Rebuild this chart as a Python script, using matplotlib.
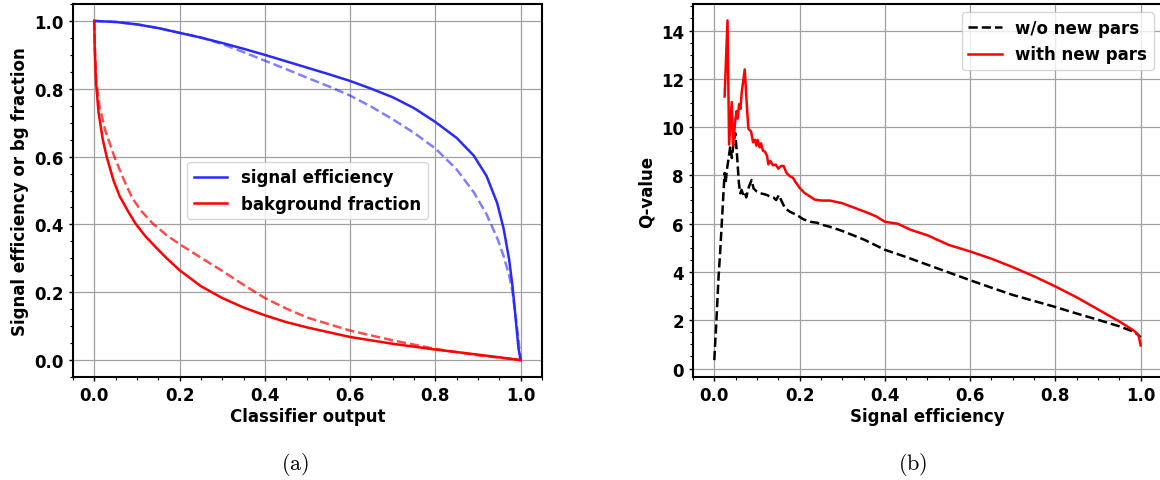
import numpy as np
import matplotlib
matplotlib.use("Agg")
from matplotlib import pyplot as plt
from matplotlib.ticker import MultipleLocator

plt.rcParams['font.family'] = 'DejaVu Sans'
plt.rcParams['font.weight'] = 'bold'
plt.rcParams['axes.labelweight'] = 'bold'
plt.rcParams['font.size'] = 12
plt.rcParams['mathtext.fontset'] = 'cm'

# (a) efficiencies vs classifier output
cut_sig = [0.0, 0.05, 0.1, 0.15, 0.2, 0.25, 0.3, 0.35, 0.4, 0.45, 0.5, 0.55, 0.6,
           0.65, 0.7, 0.75, 0.8, 0.85, 0.89, 0.92, 0.945, 0.96, 0.973, 0.981,
           0.989, 0.995, 1.0]
sig_new = [1.0, 0.997, 0.99, 0.979, 0.965, 0.951, 0.935, 0.918, 0.9, 0.881, 0.862,
           0.843, 0.823, 0.8, 0.775, 0.743, 0.702, 0.655, 0.603, 0.543, 0.463,
           0.388, 0.297, 0.217, 0.113, 0.035, 0.0]
sig_old = [1.0, 0.997, 0.99, 0.979, 0.965, 0.951, 0.932, 0.908, 0.883, 0.858, 0.832,
           0.807, 0.78, 0.747, 0.71, 0.67, 0.624, 0.562, 0.495, 0.43, 0.36,
           0.307, 0.25, 0.2, 0.123, 0.06, 0.0]

cut_bg = [0.0, 0.001, 0.004, 0.01, 0.02, 0.029, 0.045, 0.06, 0.08, 0.097, 0.12,
          0.144, 0.17, 0.2, 0.25, 0.3, 0.35, 0.4, 0.45, 0.5, 0.6, 0.7, 0.8, 0.9, 1.0]
bg_new = [1.0, 0.92, 0.82, 0.73, 0.65, 0.6, 0.53, 0.482, 0.437, 0.402, 0.365, 0.333,
          0.3, 0.265, 0.218, 0.183, 0.155, 0.132, 0.112, 0.096, 0.068, 0.048, 0.031,
          0.016, 0.0]

cut_bg_old = [0.0, 0.002, 0.005, 0.012, 0.025, 0.047, 0.07, 0.089, 0.11, 0.1376,
              0.17, 0.2, 0.25, 0.3, 0.35, 0.4, 0.45, 0.5, 0.6, 0.7, 0.8, 0.9, 1.0]
bg_old = [1.0, 0.9, 0.82, 0.75, 0.68, 0.6, 0.53, 0.478, 0.44, 0.402, 0.368, 0.342,
          0.302, 0.263, 0.222, 0.183, 0.152, 0.125, 0.087, 0.058, 0.033, 0.014, 0.0]

# (b) Q-value vs signal efficiency
eff_old = [0.0, 0.005, 0.01, 0.014, 0.0219, 0.0242, 0.0265, 0.0296, 0.0343, 0.0374,
           0.0413, 0.0452, 0.0491, 0.053, 0.0577, 0.0608, 0.064, 0.0671, 0.071,
           0.0749, 0.0812, 0.0874, 0.0921, 0.0999, 0.1077, 0.1155, 0.1233, 0.1311,
           0.139, 0.1452, 0.1515, 0.1585, 0.1663, 0.178, 0.1936, 0.2092, 0.2248,
           0.2405, 0.2561, 0.2717, 0.3, 0.35, 0.4, 0.45, 0.5, 0.55, 0.6, 0.65, 0.7,
           0.75, 0.8, 0.85, 0.9, 0.95, 0.98, 0.99, 1.0]
q_old = [0.35, 2.0, 3.8, 4.9, 7.4, 8.1, 7.68, 8.24, 8.8, 9.2, 8.72, 9.34, 9.75, 8.92,
         7.68, 7.26, 7.4, 7.23, 7.33, 7.09, 7.53, 7.81, 7.46, 7.33, 7.26, 7.23,
         7.19, 7.12, 7.08, 6.98, 7.19, 6.91, 6.63, 6.49, 6.36, 6.18, 6.08, 6.04,
         5.94, 5.87, 5.7, 5.35, 4.92, 4.62, 4.3, 3.98, 3.66, 3.35, 3.05, 2.8, 2.55,
         2.28, 2.02, 1.75, 1.55, 1.45, 1.3]

eff_new = [0.0242, 0.031, 0.0347, 0.0409, 0.044, 0.0494, 0.0526, 0.055, 0.0581,
           0.0612, 0.0644, 0.0714, 0.0768, 0.08, 0.0862, 0.0909, 0.0956, 0.0987,
           0.1018, 0.1065, 0.1096, 0.1143, 0.119, 0.1236, 0.1268, 0.1315, 0.1377,
           0.144, 0.1502, 0.1565, 0.1627, 0.169, 0.1768, 0.1846, 0.1893, 0.2002,
           0.2119, 0.2236, 0.2353, 0.2509, 0.2705, 0.3, 0.33, 0.36, 0.38, 0.4, 0.43,
           0.46, 0.5, 0.55, 0.6, 0.65, 0.7, 0.75, 0.8, 0.85, 0.9, 0.95, 0.98, 0.99,
           0.995, 1.0]
q_new = [11.27, 14.42, 9.28, 11.04, 9.24, 10.32, 10.67, 10.35, 10.95, 10.76, 11.46,
         12.39, 10.76, 9.93, 9.82, 9.37, 9.48, 9.23, 9.47, 9.16, 9.33, 9.02, 8.98,
         8.81, 8.46, 8.6, 8.42, 8.45, 8.28, 8.39, 8.39, 8.11, 7.97, 7.9, 7.76, 7.48,
         7.27, 7.14, 7.0, 6.96, 6.96, 6.85, 6.65, 6.45, 6.3, 6.08, 6.0, 5.75, 5.52,
         5.12, 4.85, 4.55, 4.2, 3.82, 3.4, 2.95, 2.45, 1.95, 1.62, 1.48, 1.38, 0.96]


def style_axes(ax):
    for sp in ax.spines.values():
        sp.set_linewidth(1.5)
    ax.grid(True, which='major', color='#a0a0a0', linewidth=0.9)
    ax.set_axisbelow(True)
    ax.tick_params(which='major', direction='out', length=3, width=1)
    ax.tick_params(which='minor', direction='out', length=2, width=0.8)


fig = plt.figure(figsize=(11.6, 4.81), dpi=100)
ax1 = fig.add_axes([0.0629, 0.2141, 0.4043, 0.7755])
ax2 = fig.add_axes([0.5974, 0.2141, 0.4043, 0.7755])

ax1.plot(cut_sig, sig_old, '--', color='blue', alpha=0.5, lw=1.8)
ax1.plot(cut_bg_old, bg_old, '--', color='red', alpha=0.7, lw=1.8)
ax1.plot(cut_sig, sig_new, '-', color='#2a2aff', lw=1.8, label='signal efficiency')
ax1.plot(cut_bg, bg_new, '-', color='red', lw=1.8, label='bakground fraction')
ax1.set_xlim(-0.05, 1.05)
ax1.set_ylim(-0.05, 1.05)
ax1.xaxis.set_major_locator(MultipleLocator(0.2))
ax1.xaxis.set_minor_locator(MultipleLocator(0.05))
ax1.yaxis.set_major_locator(MultipleLocator(0.2))
ax1.yaxis.set_minor_locator(MultipleLocator(0.05))
ax1.set_xlabel('Classifier output', labelpad=2)
ax1.set_ylabel('Signal efficiency or bg fraction')
ax1.legend(loc='center')
style_axes(ax1)

ax2.plot(eff_old, q_old, '--', color='black', lw=1.8, label='w/o new pars')
ax2.plot(eff_new, q_new, '-', color='red', lw=1.8, label='with new pars')
ax2.set_xlim(-0.05, 1.05)
ax2.set_ylim(-0.35, 15.1)
ax2.xaxis.set_major_locator(MultipleLocator(0.2))
ax2.xaxis.set_minor_locator(MultipleLocator(0.05))
ax2.yaxis.set_major_locator(MultipleLocator(2))
ax2.yaxis.set_minor_locator(MultipleLocator(0.5))
ax2.set_xlabel('Signal efficiency', labelpad=2)
ax2.set_ylabel('Q-value')
ax2.legend(loc='upper right')
style_axes(ax2)

fig.text(295 / 1160, 1 - 465 / 481, r'$\mathrm{(a)}$', fontsize=16, ha='center', va='center')
fig.text(913 / 1160, 1 - 465 / 481, r'$\mathrm{(b)}$', fontsize=16, ha='center', va='center')

fig.savefig('out.png', dpi=100)
